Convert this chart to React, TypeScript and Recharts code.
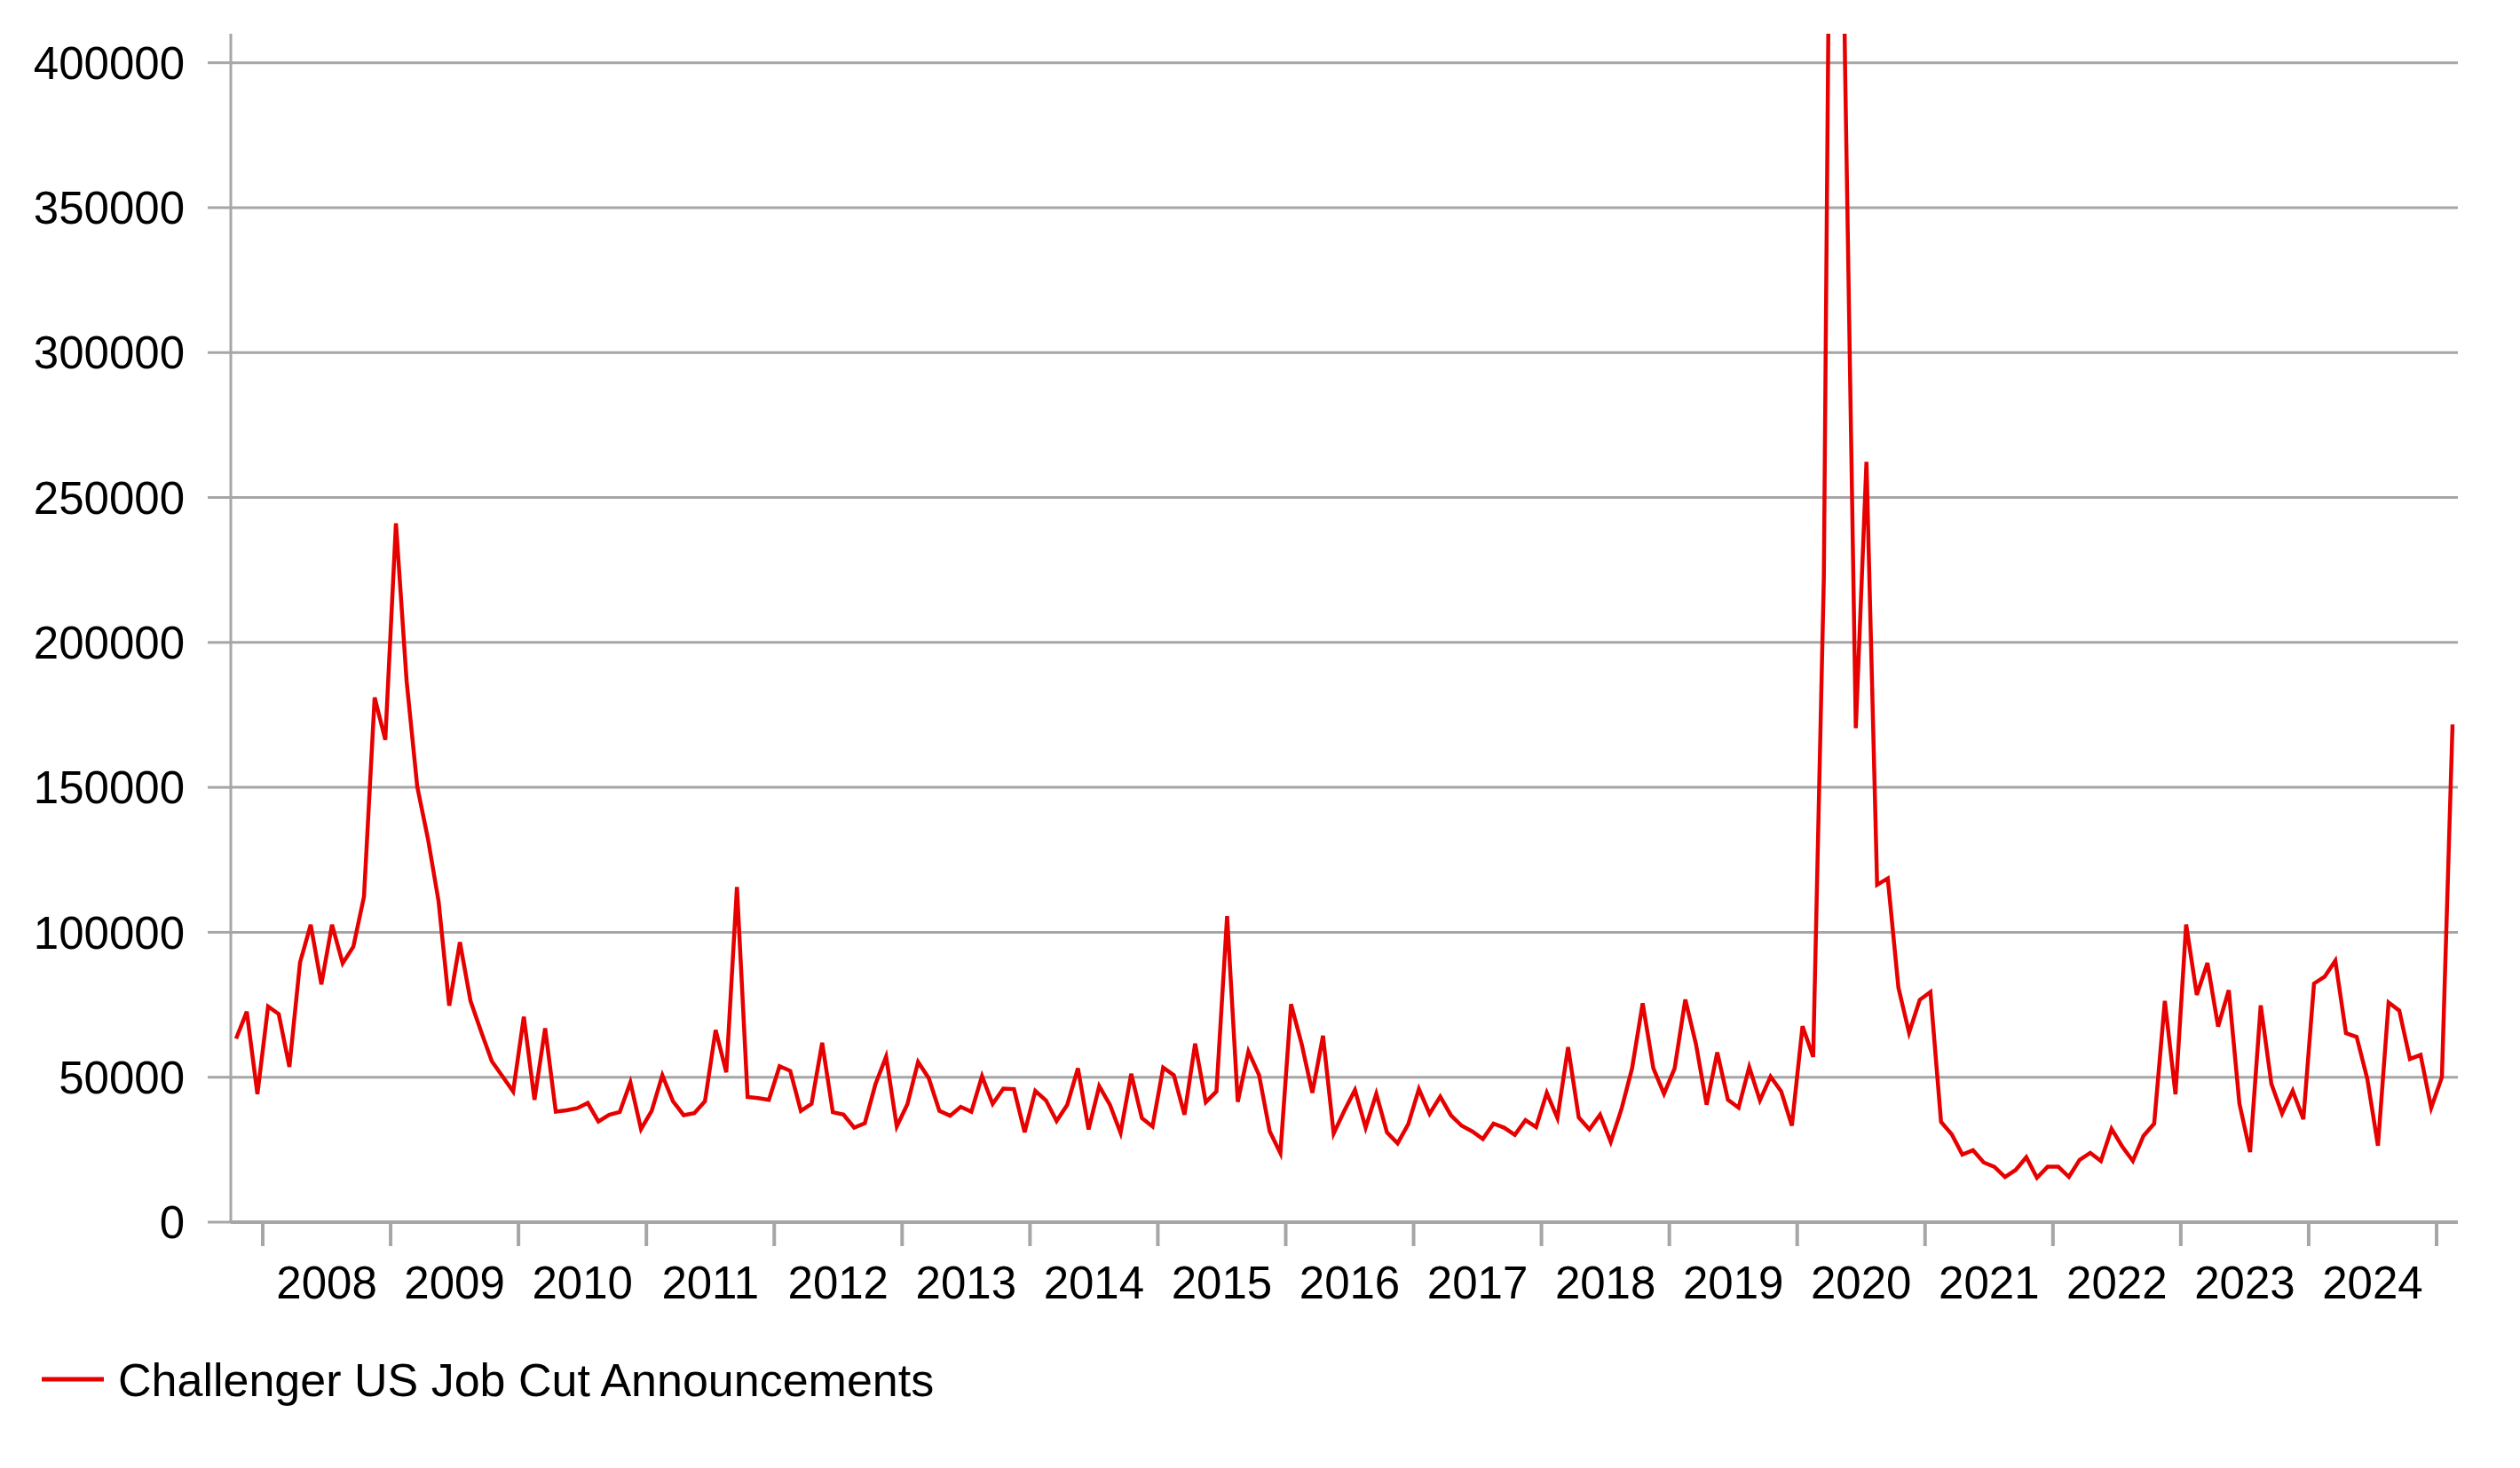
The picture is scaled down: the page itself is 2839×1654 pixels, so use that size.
import React from "react";
import { LineChart, Line, XAxis, YAxis, CartesianGrid, Legend } from "recharts";

// monthly job cut announcements
const cuts2007 = [63300, 72600, 44200]; // Oct - Dec
const cuts2008 = [74400, 71800, 53600, 89600, 102600, 82000, 102600, 89300, 95000, 112300, 181000, 166400];
const cuts2009 = [241100, 186700, 150200, 132300, 110700, 74700, 96600, 76300, 65700, 55500, 50300, 45100];
const cuts2010 = [70900, 42200, 66900, 38100, 38600, 39300, 41100, 34700, 37000, 38000, 48200, 32100];
const cuts2011 = [38400, 50700, 41700, 36900, 37600, 41700, 66300, 51700, 115600, 43200, 42800, 42200];
const cuts2012 = [53800, 52200, 38400, 40800, 61900, 37900, 37100, 32600, 34100, 47600, 57100, 33000];
const cuts2013 = [40700, 55300, 49700, 38400, 36700, 39800, 38100, 50400, 40800, 46100, 45900, 31000];
const cuts2014 = [45300, 42000, 34900, 40500, 53100, 32000, 46900, 40500, 30800, 51200, 35900, 33000];
const cuts2015 = [53300, 50700, 37100, 61600, 41400, 45100, 105600, 41500, 58900, 50700, 31300, 23800];
const cuts2016 = [75200, 61400, 44600, 64300, 30600, 38400, 45600, 32600, 44300, 31000, 27200, 33800];
const cuts2017 = [45900, 37400, 43300, 36900, 33300, 31300, 28700, 34000, 32600, 30100, 35200, 32800];
const cuts2018 = [44600, 35900, 60400, 36100, 32000, 37100, 27700, 38900, 53000, 75500, 53100, 44300];
const cuts2019 = [53100, 76800, 61400, 40500, 58600, 42200, 39500, 53500, 42000, 50200, 45100, 33300];
const cuts2020 = [67600, 57000, 222300, 671100, 397000, 170400, 262300, 116400, 118600, 80900, 65300, 76700];
const cuts2021 = [79400, 34600, 30300, 23300, 24800, 20600, 19100, 15600, 18000, 22400, 15300, 19100];
const cuts2022 = [19100, 15600, 21500, 23900, 21100, 32200, 26100, 21100, 29800, 34000, 76300, 44100];
const cuts2023 = [102700, 78400, 89400, 67500, 80000, 40900, 24200, 74800, 47700, 37500, 45300, 35500];
const cuts2024 = [82300, 84700, 90200, 65200, 63900, 49500, 26400, 75800, 73000, 56300, 57700, 39400];
const cuts2025 = [50000, 171700]; // Jan - Feb

const firstMonth = 10;
const yearBlocks: Array<[number, number[]]> = [
  [2007, cuts2007], [2008, cuts2008], [2009, cuts2009], [2010, cuts2010],
  [2011, cuts2011], [2012, cuts2012], [2013, cuts2013], [2014, cuts2014],
  [2015, cuts2015], [2016, cuts2016], [2017, cuts2017], [2018, cuts2018],
  [2019, cuts2019], [2020, cuts2020], [2021, cuts2021], [2022, cuts2022],
  [2023, cuts2023], [2024, cuts2024], [2025, cuts2025],
];

const yearLabels = ["2008", "2009", "2010", "2011", "2012", "2013", "2014", "2015", "2016",
  "2017", "2018", "2019", "2020", "2021", "2022", "2023", "2024"];
const yTicks = [0, 50000, 100000, 150000, 200000, 250000, 300000, 350000, 400000];
const seriesName = "Challenger US Job Cut Announcements";

const RED = "#e60000";
const GREY = "#a6a6a6";
const FONT = "Arial, 'Liberation Sans', sans-serif";

const data: { idx: number; year: number; month: number; cuts: number }[] = [];
yearBlocks.forEach(([year, vals], b) => {
  vals.forEach((v, m) => {
    data.push({ idx: data.length, year, month: (b === 0 ? firstMonth : 1) + m, cuts: v });
  });
});

const januaries = data.filter((d) => d.month === 1);
// ticks sit between december and january, labels in the middle of each year
const boundaryTicks = januaries.map((d) => d.idx - 0.5);
const labelTicks = januaries
  .filter((d) => yearLabels.includes(String(d.year)))
  .map((d) => d.idx + 5.5);
const xDomain: [number, number] = [-0.5, data.length - 0.5];

const renderLegend = (props: any) => {
  const item = props.payload && props.payload[0];
  return (
    <svg width={1200} height={90} style={{ display: "block" }}>
      <line x1={47} x2={117} y1={50} y2={50} stroke={RED} strokeWidth={5} />
      <text x={133} y={69} fontSize={52} fontFamily={FONT} fill="#000">
        {item ? item.value : seriesName}
      </text>
    </svg>
  );
};

export default function App() {
  const tickStyle = { fontSize: 51, fontFamily: FONT, fill: "#000" };
  return (
    <div style={{ position: "absolute", left: 0, top: 0, width: 2839, height: 1654, background: "#fff" }}>
      <LineChart
        width={2839}
        height={1654}
        data={data}
        margin={{ top: 38, right: 70, left: 0, bottom: 60 }}
      >
        <CartesianGrid
          vertical={false}
          horizontalValues={yTicks}
          stroke={GREY}
          strokeWidth={3}
        />
        <XAxis
          xAxisId="months"
          dataKey="idx"
          type="number"
          domain={xDomain}
          allowDataOverflow
          ticks={boundaryTicks}
          interval={0}
          tickFormatter={() => ""}
          tickSize={27}
          height={27}
          axisLine={{ stroke: GREY, strokeWidth: 4 }}
          tickLine={{ stroke: GREY, strokeWidth: 4 }}
        />
        <XAxis
          xAxisId="years"
          dataKey="idx"
          type="number"
          domain={xDomain}
          allowDataOverflow
          ticks={labelTicks}
          interval={0}
          tickFormatter={(v: number) => String(data[Math.round(v - 5.5)].year)}
          tickSize={0}
          tickMargin={23}
          height={100}
          axisLine={false}
          tickLine={false}
          tick={tickStyle}
        />
        <YAxis
          type="number"
          domain={[0, 410000]}
          allowDataOverflow
          ticks={yTicks}
          interval={0}
          width={260}
          tickSize={26}
          tickMargin={26}
          axisLine={{ stroke: GREY, strokeWidth: 3 }}
          tickLine={{ stroke: GREY, strokeWidth: 3 }}
          tick={tickStyle}
        />
        <Legend verticalAlign="bottom" align="left" content={renderLegend} />
        <Line
          xAxisId="months"
          type="linear"
          dataKey="cuts"
          name={seriesName}
          stroke={RED}
          strokeWidth={4.5}
          dot={false}
          activeDot={false}
          isAnimationActive={false}
        />
      </LineChart>
    </div>
  );
}
